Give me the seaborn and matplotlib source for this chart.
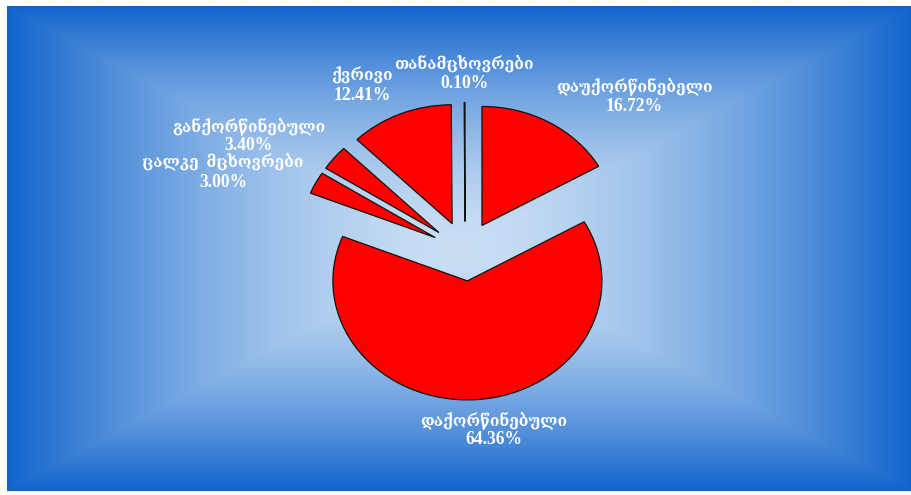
import numpy as np
import matplotlib
matplotlib.use("Agg")
import matplotlib.pyplot as plt
import seaborn as sns

# Marital status shares (%)
categories = ["დაუქორწინებელი", "დაქორწინებული", "ცალკე  მცხოვრები",
              "განქორწინებული", "ქვრივი", "თანამცხოვრები"]
shares = [16.72, 64.36, 3.00, 3.40, 12.41, 0.10]

sns.set_theme(style="white")
plt.rcParams["font.family"] = ["Liberation Serif", "DejaVu Serif"]

W, H, DPI = 912, 495, 100
fig = plt.figure(figsize=(W / DPI, H / DPI), dpi=DPI, facecolor="white")

# Box-shaped gradient background (light centre, deep blue edges)
bg = fig.add_axes([0, 0, 1, 1])
bg.set_xlim(0, W)
bg.set_ylim(H, 0)
bg.axis("off")
x0, x1, y0, y1 = 7, 912, 6, 491
xs = np.linspace(-1, 1, 600)
ys = np.linspace(-1, 1, 400)
gx, gy = np.meshgrid(xs, ys)
t = np.maximum(np.abs(gx), np.abs(gy))
t = np.clip(t, 0, 1) ** 1.6
c_in = np.array([202, 223, 244]) / 255
c_out = np.array([16, 100, 204]) / 255
img = c_in[None, None, :] * (1 - t[..., None]) + c_out[None, None, :] * t[..., None]
bg.imshow(img, extent=(x0, x1, y1, y0), aspect="auto", interpolation="bilinear")

# Pie axes, scaled so the pie is slightly flattened
cx, cy, rx, ry = 465.1, 251.2, 134.5, 119.0
ax = fig.add_axes([0, 0, 1, 1])
ax.patch.set_alpha(0)
ax.axis("off")
ax.pie(shares, startangle=90, counterclock=False,
       explode=[0.25] * len(shares), colors=["#FF0000"] * len(shares),
       wedgeprops=dict(edgecolor="#111111", linewidth=0.9))
ax.set_aspect("auto")
ax.set_xlim((0 - cx) / rx, (W - cx) / rx)
ax.set_ylim((cy - H) / ry, (cy - 0) / ry)

# Label anchor points (data units); name above, percentage below
label_pos = [(1.26, 1.30), (0.215, -1.50), (-1.80, 0.665),
             (-1.61, 0.97), (-0.766, 1.39), (-0.008, 1.49)]
half_gap = 10 / ry
for name, val, (lx, ly) in zip(categories, shares, label_pos):
    ax.text(lx, ly + half_gap, name, ha="center", va="center",
            color="white", fontsize=11.2, fontweight="bold")
    ax.text(lx, ly - half_gap, f"{val:.2f}%", ha="center", va="center",
            color="white", fontsize=12.7, fontweight="bold")

fig.savefig("out.png", dpi=DPI, facecolor="white")
